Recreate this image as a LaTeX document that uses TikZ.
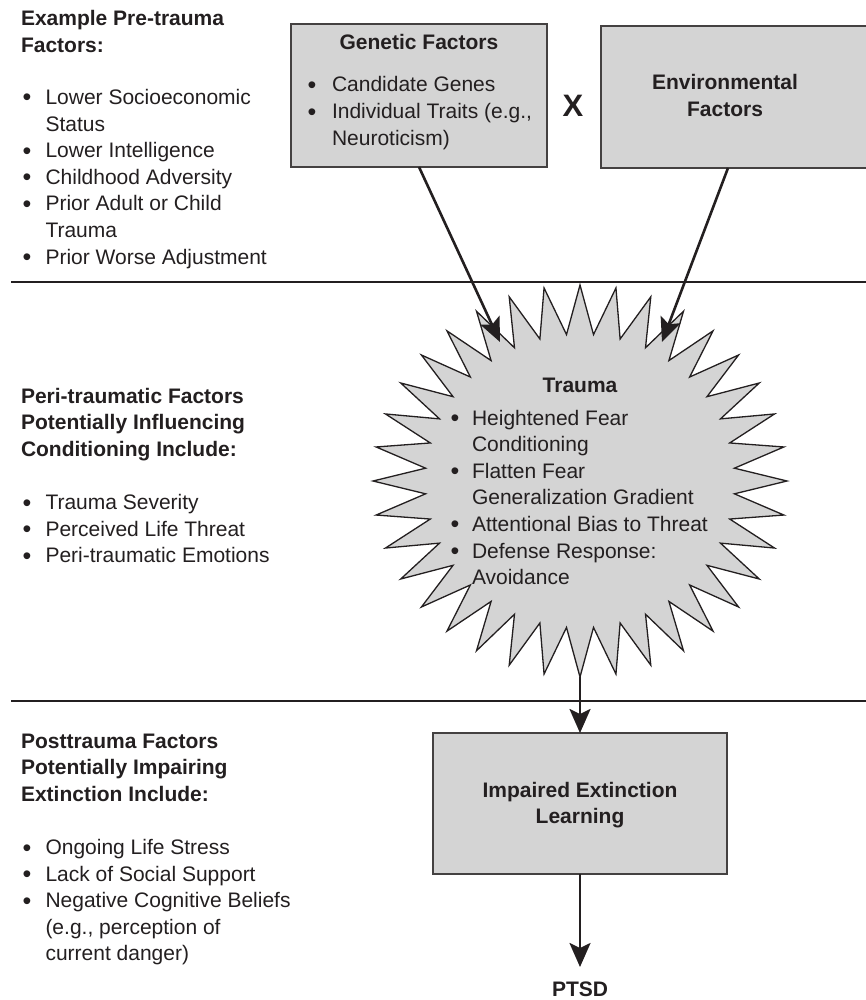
\documentclass[tikz,border=0pt]{standalone}
\usepackage{fontspec}
\setmainfont{Liberation Sans}
\usetikzlibrary{arrows.meta}
\definecolor{ink}{HTML}{231F20}
\definecolor{panel}{HTML}{D4D4D4}

\begin{document}
\begin{tikzpicture}[x=1pt,y=-1pt,
  every node/.style={inner sep=0pt, outer sep=0pt, text=ink},
  body/.style={anchor=base west, font=\fontsize{21}{26}\selectfont},
  head/.style={anchor=base west, font=\fontsize{21}{26}\selectfont\bfseries},
  ctr/.style={anchor=base, font=\fontsize{21}{26}\selectfont\bfseries},
  dot/.style={anchor=base, yshift=-1.5pt, font=\fontsize{25}{26}\selectfont},
  rule/.style={draw=ink, line width=2.8pt},
  panelbox/.style={draw=ink!85, fill=panel, line width=1.4pt, anchor=north west},
  burst/.style={draw=ink, fill=panel, line width=1.3pt, line join=miter},
  flow/.style={draw=ink, line width=2.6pt, -{Stealth[length=24pt,width=21pt,inset=5pt]}},
]
\useasboundingbox (0,0) rectangle (866,1000);
\clip (0,0) rectangle (866,1000);

% section dividers
\coordinate (r1a) at (11,282);  \coordinate (r1b) at (870,282);
\coordinate (r2a) at (11,701);  \coordinate (r2b) at (870,701);
\draw[rule] (r1a) -- (r1b);
\draw[rule] (r2a) -- (r2b);

% top boxes
\node[panelbox, minimum width=256pt, minimum height=143pt] (gen) at (291,24) {};
\node[panelbox, minimum width=300pt, minimum height=142pt] (env) at (601,26) {};
\node[ctr] (gentitle) at (419,50) {Genetic Factors};
\node[dot] (gb1) at (312,92) {•};
\node[body] (gt1) at (332,92) {Candidate Genes};
\node[dot] (gb2) at (312,118.6) {•};
\node[body] (gt2) at (332,118.6) {Individual Traits (e.g.,};
\node[body] (gt3) at (332,145.2) {Neuroticism)};
\node[ctr] (envt1) at (725,90) {Environmental};
\node[ctr] (envt2) at (725,116.6) {Factors};
\node[anchor=base, font=\fontsize{31}{36}\selectfont\bfseries] (times) at (573,117) {X};

% trauma burst
\begin{scope}[shift={(580,481)}]
  \draw[burst] (0:207 and 196) -- (5:155 and 147)
    \foreach \a in {10,20,...,350}{ -- (\a:207 and 196) -- (\a+5:155 and 147)} -- cycle;
\end{scope}
\coordinate (tipL) at (500,342);
\coordinate (tipR) at (662,342);
\coordinate (envout) at (728,168);
\coordinate (starbot) at (580,677);
\node[ctr] (trauma) at (580,392) {Trauma};
\node[dot] (tb1) at (455,425) {•};
\node[body] (tt1) at (472,425) {Heightened Fear};
\node[body] (tt2) at (472,451.6) {Conditioning};
\node[dot] (tb2) at (455,478.2) {•};
\node[body] (tt3) at (472,478.2) {Flatten Fear};
\node[body] (tt4) at (472,504.8) {Generalization Gradient};
\node[dot] (tb3) at (455,531.4) {•};
\node[body] (tt5) at (472,531.4) {Attentional Bias to Threat};
\node[dot] (tb4) at (455,558) {•};
\node[body] (tt6) at (472,558) {Defense Response:};
\node[body] (tt7) at (472,584.6) {Avoidance};

% lower box and outcome
\node[panelbox, minimum width=294pt, minimum height=141pt] (imp) at (433,733) {};
\node[ctr] (impt1) at (580,797) {Impaired Extinction};
\node[ctr] (impt2) at (580,823.6) {Learning};
\coordinate (ptsdtip) at (580,967);
\node[ctr] (ptsd) at (580,996) {PTSD};

% connectors
\draw[flow] (gen.south) -- (tipL);
\draw[flow] (envout) -- (tipR);
\draw[flow] (starbot) -- (imp.north);
\draw[flow] (imp.south) -- (ptsdtip);

% pre-trauma column
\node[head] (p0a) at (21,26) {Example Pre-trauma};
\node[head] (p0b) at (21,52.6) {Factors:};
\node[dot] (pb1) at (27,104.5) {•};
\node[body] (p1) at (45.5,104.5) {Lower Socioeconomic};
\node[body] (p2) at (45.5,131.1) {Status};
\node[dot] (pb2) at (27,157.7) {•};
\node[body] (p3) at (45.5,157.7) {Lower Intelligence};
\node[dot] (pb3) at (27,184.3) {•};
\node[body] (p4) at (45.5,184.3) {Childhood Adversity};
\node[dot] (pb4) at (27,210.9) {•};
\node[body] (p5) at (45.5,210.9) {Prior Adult or Child};
\node[body] (p6) at (45.5,237.5) {Trauma};
\node[dot] (pb5) at (27,264.1) {•};
\node[body] (p7) at (45.5,264.1) {Prior Worse Adjustment};

% peri-traumatic column
\node[head] (q0a) at (21,403) {Peri-traumatic Factors};
\node[head] (q0b) at (21,429.6) {Potentially Influencing};
\node[head] (q0c) at (21,456.2) {Conditioning Include:};
\node[dot] (qb1) at (27,509.5) {•};
\node[body] (q1) at (45.5,509.5) {Trauma Severity};
\node[dot] (qb2) at (27,536.1) {•};
\node[body] (q2) at (45.5,536.1) {Perceived Life Threat};
\node[dot] (qb3) at (27,562.7) {•};
\node[body] (q3) at (45.5,562.7) {Peri-traumatic Emotions};

% posttrauma column
\node[head] (s0a) at (21,748) {Posttrauma Factors};
\node[head] (s0b) at (21,774.6) {Potentially Impairing};
\node[head] (s0c) at (21,801.2) {Extinction Include:};
\node[dot] (sb1) at (27,854.5) {•};
\node[body] (s1) at (45.5,854.5) {Ongoing Life Stress};
\node[dot] (sb2) at (27,881.1) {•};
\node[body] (s2) at (45.5,881.1) {Lack of Social Support};
\node[dot] (sb3) at (27,907.7) {•};
\node[body] (s3) at (45.5,907.7) {Negative Cognitive Beliefs};
\node[body] (s4) at (45.5,934.3) {(e.g., perception of};
\node[body] (s5) at (45.5,960.9) {current danger)};
\end{tikzpicture}
\end{document}
